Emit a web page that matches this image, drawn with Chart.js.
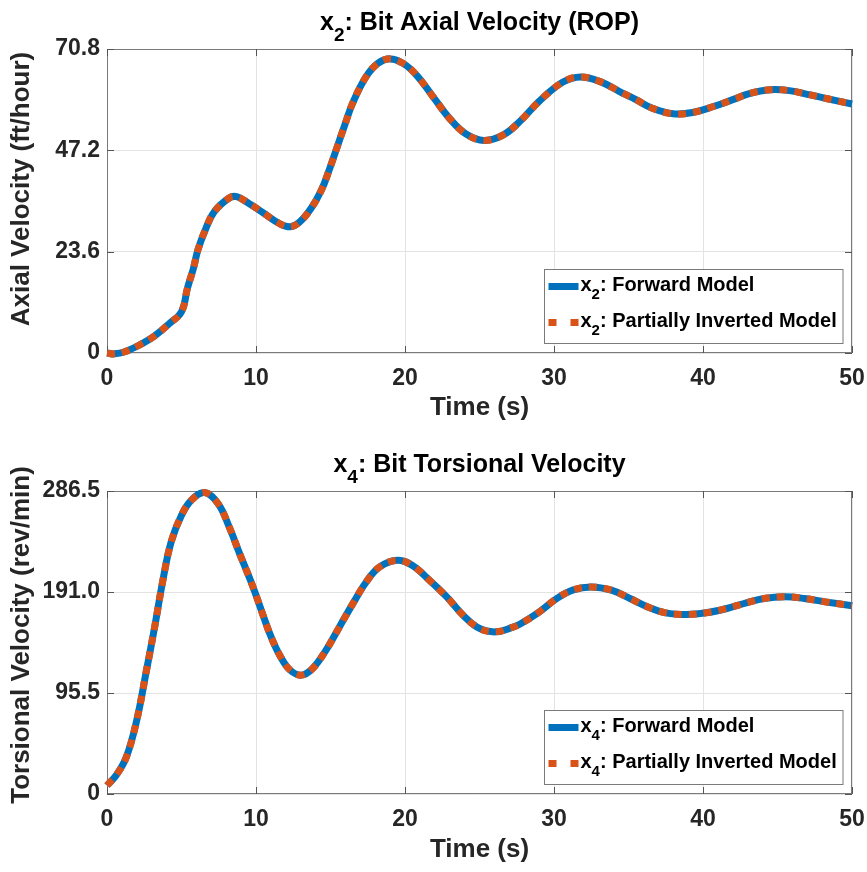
<!DOCTYPE html>
<html>
<head>
<meta charset="utf-8">
<script src="https://cdn.jsdelivr.net/npm/chart.js@4.4.1/dist/chart.umd.min.js"></script>
<style>
  body { margin: 0; background: #fff; }
  canvas { position: absolute; left: 0; }
  #axialChart { top: 0; }
  #torsionChart { top: 436px; }
</style>
</head>
<body>
<canvas id="axialChart" width="867" height="436"></canvas>
<canvas id="torsionChart" width="867" height="436"></canvas>
<script>
// tick positions and labels
const timeTicks = [0, 10, 20, 30, 40, 50];
const timeTickLabels = ['0', '10', '20', '30', '40', '50'];
const axialTicks = [0, 23.6, 47.2, 70.8];
const axialTickLabels = ['0', '23.6', '47.2', '70.8'];
const torsionTicks = [0, 95.5, 191.0, 286.5];
const torsionTickLabels = ['0', '95.5', '191.0', '286.5'];

// x2: bit axial velocity (ft/hour)
const axialTime = [0, 0.5, 1.2, 2.2, 3.2, 4.2, 5.0, 5.4, 5.8, 6.1, 6.6, 7.2, 8.2, 8.7, 9.5, 10.5, 11.6, 12.3, 12.9,
  13.7, 14.4, 14.95, 15.4, 15.95, 16.5, 17.4, 18.2, 19.0, 19.9, 20.8, 21.9, 23.0, 24.1, 25.3, 26.6, 27.7, 29.0,
  30.6, 31.8, 33.1, 34.4, 35.5, 36.6, 38.0, 39.3, 40.7, 42.0, 43.1, 44.5, 45.8, 47.2, 48.5, 50];
const axialForward = [0, -0.2, 0.3, 1.9, 4.0, 6.9, 9.6, 15.1, 19.7, 24.0, 28.7, 32.9, 36.1, 36.4, 34.9, 32.6, 30.1, 29.4, 30.4,
  33.7, 38.0, 43.0, 47.5, 53.0, 58.3, 64.4, 67.5, 68.5, 67.4, 64.6, 59.6, 54.6, 51.0, 49.5, 50.8, 53.9, 58.6,
  63.1, 64.3, 63.2, 60.9, 59.0, 57.0, 55.7, 56.0, 57.4, 59.0, 60.4, 61.3, 61.1, 60.1, 59.1, 58.0];
const axialInverted = [0, -0.2, 0.3, 1.9, 4.0, 6.9, 9.6, 15.1, 19.7, 24.0, 28.7, 32.9, 36.1, 36.4, 34.9, 32.6, 30.1, 29.4, 30.4,
  33.7, 38.0, 43.0, 47.5, 53.0, 58.3, 64.4, 67.5, 68.5, 67.4, 64.6, 59.6, 54.6, 51.0, 49.5, 50.8, 53.9, 58.6,
  63.1, 64.3, 63.2, 60.9, 59.0, 57.0, 55.7, 56.0, 57.4, 59.0, 60.4, 61.3, 61.1, 60.1, 59.1, 58.0];

// x4: bit torsional velocity (rev/min)
const torsionTime = [0, 0.63, 1.3, 2.0, 2.65, 3.2, 3.75, 4.3, 5.0, 5.66, 6.55, 7.45, 8.2, 8.9, 9.6, 10.0, 10.5, 11.0, 11.6,
  12.3, 13.05, 13.8, 14.7, 15.6, 16.5, 17.4, 18.3, 19.5, 20.5, 21.65, 22.8, 23.9, 25.0, 26.1, 27.2, 27.7, 28.9, 30.2,
  31.3, 32.5, 33.85, 35.1, 36.3, 37.5, 38.9, 40.2, 41.6, 42.9, 44.1, 45.5, 46.8, 48.2, 50];
const torsionForward = [8, 18, 35, 70, 117, 158, 202, 238, 263.5, 277.7, 285, 274.6, 252.5, 227.3, 203, 188, 168, 149, 131,
  117, 112.4, 118.7, 136, 158, 180, 200.5, 214.7, 221, 216, 202, 186.4, 169, 156.5, 153.3, 157.5, 160.5, 171, 185,
  193, 195.8, 192.7, 184.9, 176.9, 171.3, 169.7, 171.3, 175.4, 180.7, 184.9, 186.4, 184.9, 181.7, 178];
const torsionInverted = [8, 18, 35, 70, 117, 158, 202, 238, 263.5, 277.7, 285, 274.6, 252.5, 227.3, 203, 188, 168, 149, 131,
  117, 112.4, 118.7, 136, 158, 180, 200.5, 214.7, 221, 216, 202, 186.4, 169, 156.5, 153.3, 157.5, 160.5, 171, 185,
  193, 195.8, 192.7, 184.9, 176.9, 171.3, 169.7, 171.3, 175.4, 180.7, 184.9, 186.4, 184.9, 181.7, 178];

const BLUE = '#0072BD';
const ORANGE = '#D95319';
const FONT = "'Liberation Sans', Arial, Helvetica, sans-serif";
const TEXT = '#262626';

function toPoints(xs, ys) {
    return xs.map((x, i) => ({ x: x, y: ys[i] }));
}

// draws text pieces where some are subscripts, e.g. x<sub>2</sub>
function drawRich(ctx, parts, x, y, size, align) {
    const sub = Math.round(size * 0.75);
    let w = 0;
    parts.forEach(p => {
        ctx.font = 'bold ' + (p.sub ? sub : size) + 'px ' + FONT;
        p.w = ctx.measureText(p.t).width;
        w += p.w;
    });
    let cx = align === 'center' ? x - w / 2 : x;
    ctx.textAlign = 'left';
    ctx.textBaseline = 'alphabetic';
    parts.forEach(p => {
        ctx.font = 'bold ' + (p.sub ? sub : size) + 'px ' + FONT;
        ctx.fillText(p.t, cx, p.sub ? y + size * 0.42 : y);
        cx += p.w;
    });
}

const framePlugin = {
    id: 'frame',
    beforeDatasetsDraw(chart) {
        const { ctx, chartArea: a, scales: { x, y } } = chart;
        ctx.save();
        ctx.strokeStyle = '#7a7a7a';
        ctx.lineWidth = 1;
        ctx.strokeRect(a.left + 0.5, a.top + 0.5, a.right - a.left - 1, a.bottom - a.top - 1);
        const len = 7;
        ctx.strokeStyle = '#555';
        ctx.beginPath();
        x.ticks.forEach(t => {
            const px = Math.round(x.getPixelForValue(t.value)) + 0.5;
            ctx.moveTo(px, a.bottom); ctx.lineTo(px, a.bottom - len);
            ctx.moveTo(px, a.top); ctx.lineTo(px, a.top + len);
        });
        y.ticks.forEach(t => {
            const py = Math.round(y.getPixelForValue(t.value)) + 0.5;
            ctx.moveTo(a.left, py); ctx.lineTo(a.left + len, py);
            ctx.moveTo(a.right, py); ctx.lineTo(a.right - len, py);
        });
        ctx.stroke();
        ctx.restore();
    },
    afterDraw(chart, args, opts) {
        const { ctx, chartArea: a } = chart;
        ctx.save();
        ctx.fillStyle = '#000';
        drawRich(ctx, opts.title, (a.left + a.right) / 2, opts.titleY, 25, 'center');

        // y axis label
        ctx.save();
        ctx.translate(22, opts.yTitleY);
        ctx.rotate(-Math.PI / 2);
        ctx.font = 'bold 26px ' + FONT;
        ctx.fillStyle = TEXT;
        ctx.textAlign = 'center';
        ctx.textBaseline = 'middle';
        ctx.fillText(opts.yTitle, 0, 0);
        ctx.restore();

        // legend box in the lower right corner
        const bw = 298.5, bh = 74;
        const bx = a.right - 10 - bw, by = a.bottom - 10 - bh;
        ctx.fillStyle = '#fff';
        ctx.fillRect(bx, by, bw, bh);
        ctx.strokeStyle = '#7a7a7a';
        ctx.lineWidth = 1;
        ctx.strokeRect(Math.round(bx) + 0.5, Math.round(by) + 0.5, bw, bh);

        chart.data.datasets.slice().sort((p, q) => q.order - p.order).forEach((ds, i) => {
            const base = by + 21.5 + i * 36;
            ctx.save();
            ctx.strokeStyle = ds.borderColor;
            ctx.lineWidth = 7;
            ctx.lineCap = 'butt';
            if (ds.borderDash) ctx.setLineDash([8, 14]);
            ctx.beginPath();
            ctx.moveTo(bx + 5, base - 4);
            ctx.lineTo(bx + 35, base - 4);
            ctx.stroke();
            ctx.restore();
            ctx.fillStyle = '#000';
            drawRich(ctx, ds.richLabel, bx + 37, base, 20, 'left');
        });
        ctx.restore();
    }
};

function makeChart(id, cfg) {
    return new Chart(document.getElementById(id), {
        type: 'line',
        data: {
            datasets: [{
                label: 'Forward Model',
                richLabel: [{ t: 'x' }, { t: cfg.sub, sub: true }, { t: ': Forward Model' }],
                data: toPoints(cfg.time, cfg.forward),
                borderColor: BLUE,
                borderWidth: 7,
                pointRadius: 0,
                tension: 0.4,
                clip: false,
                order: 2
            }, {
                label: 'Partially Inverted Model',
                richLabel: [{ t: 'x' }, { t: cfg.sub, sub: true }, { t: ': Partially Inverted Model' }],
                data: toPoints(cfg.time, cfg.inverted),
                borderColor: ORANGE,
                borderWidth: 7,
                borderDash: [8, 7],
                borderCapStyle: 'butt',
                pointRadius: 0,
                tension: 0.4,
                clip: false,
                order: 1
            }]
        },
        options: {
            responsive: false,
            animation: false,
            events: [],
            layout: { padding: { top: cfg.top, right: 15, left: 0, bottom: 0 } },
            plugins: {
                legend: { display: false },
                tooltip: { enabled: false },
                frame: {
                    title: [{ t: 'x' }, { t: cfg.sub, sub: true }, { t: cfg.title }],
                    titleY: cfg.titleY,
                    yTitle: cfg.yTitle,
                    yTitleY: cfg.yTitleY
                }
            },
            scales: {
                x: {
                    type: 'linear',
                    min: 0,
                    max: 50,
                    afterFit: s => { s.height = cfg.xHeight; s.paddingLeft = 0; s.paddingRight = 0; },
                    afterBuildTicks: s => { s.ticks = timeTicks.map(v => ({ value: v })); },
                    grid: { color: '#e3e3e3', drawTicks: false },
                    border: { display: false },
                    ticks: {
                        padding: 12,
                        maxRotation: 0,
                        autoSkip: false,
                        color: TEXT,
                        font: { family: FONT, size: 23, weight: 'bold' },
                        callback: (v, i) => timeTickLabels[i]
                    },
                    title: {
                        display: true,
                        text: 'Time (s)',
                        color: TEXT,
                        font: { family: FONT, size: 26, weight: 'bold' },
                        padding: { top: 0, bottom: cfg.xTitlePad }
                    }
                },
                y: {
                    min: 0,
                    max: cfg.yTicks[cfg.yTicks.length - 1],
                    afterFit: s => { s.width = 107; s.paddingTop = 0; s.paddingBottom = 0; },
                    afterBuildTicks: s => { s.ticks = cfg.yTicks.map(v => ({ value: v })); },
                    grid: { color: '#e3e3e3', drawTicks: false },
                    border: { display: false },
                    ticks: {
                        padding: 7,
                        autoSkip: false,
                        color: TEXT,
                        font: { family: FONT, size: 23, weight: 'bold' },
                        callback: (v, i) => cfg.yLabels[i]
                    }
                }
            }
        },
        plugins: [framePlugin]
    });
}

makeChart('axialChart', {
    sub: '2',
    title: ': Bit Axial Velocity (ROP)',
    titleY: 30,
    top: 49,
    xHeight: 83,
    xTitlePad: 13,
    time: axialTime,
    forward: axialForward,
    inverted: axialInverted,
    yTicks: axialTicks,
    yLabels: axialTickLabels,
    yTitle: 'Axial Velocity (ft/hour)',
    yTitleY: 189
});

makeChart('torsionChart', {
    sub: '4',
    title: ': Bit Torsional Velocity',
    titleY: 36,
    top: 55,
    xHeight: 78,
    xTitlePad: 7,
    time: torsionTime,
    forward: torsionForward,
    inverted: torsionInverted,
    yTicks: torsionTicks,
    yLabels: torsionTickLabels,
    yTitle: 'Torsional Velocity (rev/min)',
    yTitleY: 199
});
</script>
</body>
</html>
